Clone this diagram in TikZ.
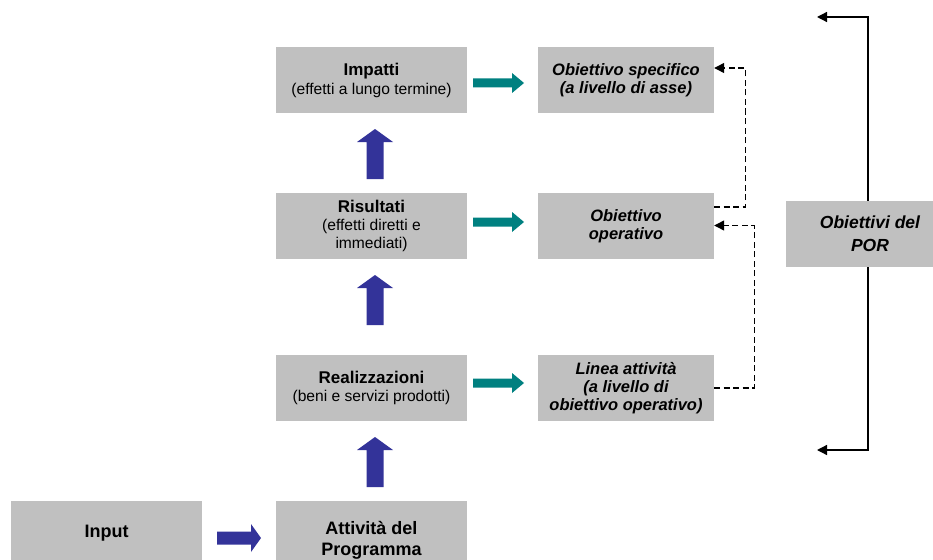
\documentclass[tikz,border=0pt]{standalone}
\usepackage{fontspec}
\setmainfont{Liberation Sans}
\usetikzlibrary{arrows.meta}
\definecolor{boxgray}{HTML}{C0C0C0}
\definecolor{tealfill}{HTML}{008080}
\definecolor{bluefill}{HTML}{333399}
\newcommand{\ttltxt}[1]{{\fontsize{17}{18.5}\selectfont\bfseries #1}}
\begin{document}
\begin{tikzpicture}[x=1pt,y=-1pt,
  box/.style={fill=boxgray, minimum width=191pt, minimum height=66pt, inner sep=0pt,
    align=center, font=\fontsize{15.6}{18.3}\selectfont},
  rbox/.style={box, minimum width=176pt, font=\fontsize{16.5}{18}\selectfont\bfseries\itshape},
  dashline/.style={line width=1.3pt, dash pattern=on 6pt off 3.5pt, -{Triangle[length=10pt,width=10pt]}},
  solidline/.style={line width=1.3pt, -{Triangle[length=10pt,width=10pt]}},
  pics/fatup/.style={code={\fill[bluefill] (-8.5,0) -- (-8.5,-37) -- (-18,-37) -- (0,-50) -- (18,-37) -- (8.5,-37) -- (8.5,0) -- cycle;}},
  pics/fatteal/.style={code={\fill[tealfill] (0,-4.5) -- (39,-4.5) -- (39,-10) -- (51,0) -- (39,10) -- (39,4.5) -- (0,4.5) -- cycle;}},
  pics/fatblue/.style={code={\fill[bluefill] (0,-6.5) -- (34,-6.5) -- (34,-14) -- (44,0) -- (34,14) -- (34,6.5) -- (0,6.5) -- cycle;}}
]
\useasboundingbox (0,0) rectangle (933,559);
\clip (0,0) rectangle (933,559);

% left column
\node[box] (imp) at (371.5,80.5) {\ttltxt{Impatti}\\(effetti a lungo termine)};
\node[box] (ris) at (371.5,226) {\ttltxt{Risultati}\\(effetti diretti e\\immediati)};
\node[box] (rea) at (371.5,388) {\ttltxt{Realizzazioni}\\(beni e servizi prodotti)};
\node[box, minimum height=78pt, font=\fontsize{18}{21}\selectfont\bfseries] (att) at (371.5,540) {Attivit\`a del\\Programma};
\node[box, font=\fontsize{18}{21}\selectfont\bfseries] (inp) at (106.5,533.5) {Input};

% right column
\node[rbox] (osp) at (626,80.5) {Obiettivo specifico\\(a livello di asse)};
\node[rbox] (oop) at (626,226) {Obiettivo\\operativo};
\node[rbox] (lin) at (626,388) {Linea attivit\`a\\(a livello di\\obiettivo operativo)};

% POR
\node[box, minimum width=168pt, font=\fontsize{17.5}{23}\selectfont\bfseries\itshape] (por) at (870,234) {Obiettivi del\\POR};

% fat arrows
\pic at (375,179) {fatup};
\pic at (375,325) {fatup};
\pic at (375,487) {fatup};
\pic at (473,83) {fatteal};
\pic at (473,222) {fatteal};
\pic at (473,383) {fatteal};
\pic at (217,538) {fatblue};

% dashed connectors
\draw[dashline] ([yshift=19pt]oop.east) -- ++(31,0) |- ([yshift=12.5pt]osp.east);
\draw[dashline] (lin.east) -- ++(40,0) |- ([yshift=0.5pt]oop.east);

% POR connectors
\coordinate (ptop) at (817,17);
\coordinate (pbot) at (817,450);
\draw[solidline] (868,0 |- por.north) |- (ptop);
\draw[solidline] (868,0 |- por.south) |- (pbot);
\end{tikzpicture}
\end{document}
